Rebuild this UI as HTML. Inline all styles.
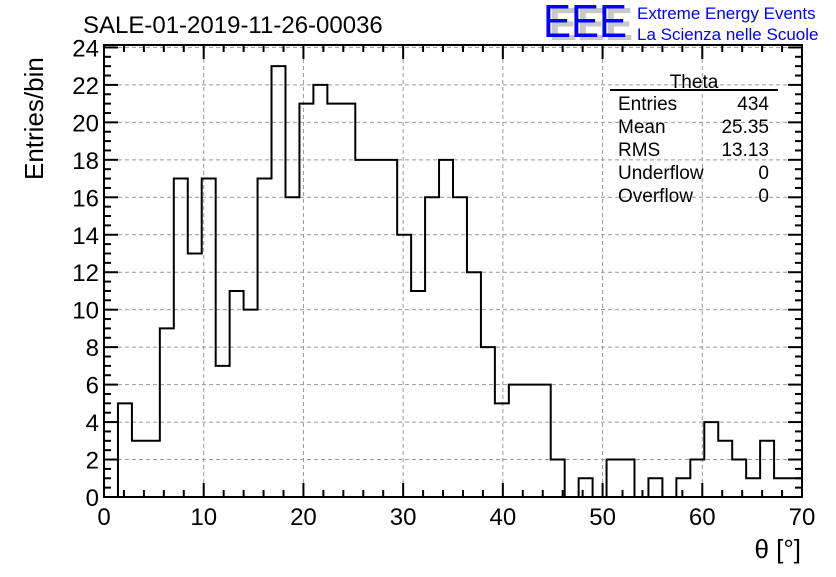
<!DOCTYPE html>
<html><head><meta charset="utf-8"><style>
body{margin:0;background:#fff}
svg text{font-family:"Liberation Sans",sans-serif}
</style></head><body>
<svg id="c" width="836" height="572" xmlns="http://www.w3.org/2000/svg">
<rect width="836" height="572" fill="#fff"/>
<g id="grid"></g>
<g id="hist"></g>
<g id="axes"></g>
<text x="83" y="33" font-size="24">SALE-01-2019-11-26-00036</text>
<g>
<text x="549" y="40" font-size="46" fill="#c8c8c8" font-weight="bold" textLength="84" lengthAdjust="spacingAndGlyphs">EEE</text>
<text x="543" y="37" font-size="46" fill="#0000ff" textLength="84" lengthAdjust="spacingAndGlyphs">EEE</text>
<text x="637" y="19" font-size="17" fill="#0000ff">Extreme Energy Events</text>
<text x="637" y="40" font-size="17" fill="#0000ff">La Scienza nelle Scuole</text>
</g>
<g font-size="19">
<text x="694" y="88" text-anchor="middle">Theta</text>
<line x1="610" y1="90" x2="778" y2="90" stroke="#000" stroke-width="2"/>
<text x="618" y="110">Entries</text><text x="769" y="110" text-anchor="end">434</text>
<text x="618" y="133">Mean</text><text x="769" y="133" text-anchor="end">25.35</text>
<text x="618" y="156">RMS</text><text x="769" y="156" text-anchor="end">13.13</text>
<text x="618" y="179">Underflow</text><text x="769" y="179" text-anchor="end">0</text>
<text x="618" y="202">Overflow</text><text x="769" y="202" text-anchor="end">0</text>
</g>
<text x="801" y="558" font-size="26" text-anchor="end">θ [°]</text>
<text transform="translate(43,180) rotate(-90)" font-size="26">Entries/bin</text>
</svg>
<script>
const binCounts=[0,5,3,3,9,17,13,17,7,11,10,17,23,16,21,22,21,21,18,18,18,14,11,16,18,16,12,8,5,6,6,6,2,0,1,0,2,2,0,1,0,1,2,4,3,2,1,3,1,1];
const binWidth=1.4;
const xTicks=[0,10,20,30,40,50,60,70];
const yTicks=[0,2,4,6,8,10,12,14,16,18,20,22,24];
const L=104,R=802,T=45,B=497,XMAX=70,YMAX=24.13;
const X=v=>L+(R-L)*v/XMAX, Y=v=>B-(B-T)*v/YMAX;
const NS="http://www.w3.org/2000/svg";
function mk(tag,at,parent){const e=document.createElementNS(NS,tag);for(const k in at)e.setAttribute(k,at[k]);parent.appendChild(e);return e;}
const grid=document.getElementById('grid'),axes=document.getElementById('axes'),hist=document.getElementById('hist');
xTicks.forEach(t=>{if(t>0&&t<XMAX){const g=mk('line',{x1:X(t),x2:X(t),y1:T,y2:B,stroke:'#999','stroke-dasharray':'4,3'},grid);

}});
yTicks.forEach(t=>{if(t>0){const g=mk('line',{x1:L,x2:R,y1:Y(t),y2:Y(t),stroke:'#999','stroke-dasharray':'4,3'},grid);

}});
let d='M'+X(0)+','+Y(0);
binCounts.forEach((c,i)=>{d+=' L'+X(i*binWidth)+','+Y(c)+' L'+X((i+1)*binWidth)+','+Y(c);});
d+=' L'+X(binCounts.length*binWidth)+','+Y(0);
const p=mk('path',{d:d,fill:'none',stroke:'#000','stroke-width':2},hist);


const fr=mk('rect',{x:L,y:T,width:R-L,height:B-T,fill:'none',stroke:'#000','stroke-width':2},axes);


for(let v=0;v<=XMAX+0.01;v+=2){const major=v%10===0;const len=major?14:7;
mk('line',{x1:X(v),x2:X(v),y1:B,y2:B-len,stroke:'#000','stroke-width':2},axes);
mk('line',{x1:X(v),x2:X(v),y1:T,y2:T+len,stroke:'#000','stroke-width':2},axes);}
for(let v=0;v<=24.01;v+=0.5){const major=Math.abs(v%2)<0.01;const len=major?14:7;
mk('line',{x1:L,x2:L+len,y1:Y(v),y2:Y(v),stroke:'#000','stroke-width':2},axes);
mk('line',{x1:R,x2:R-len,y1:Y(v),y2:Y(v),stroke:'#000','stroke-width':2},axes);}
xTicks.forEach(t=>{const e=mk('text',{x:X(t),y:B+28,'font-size':24,'text-anchor':'middle'},axes);e.textContent=t;

});
yTicks.forEach(t=>{const e=mk('text',{x:L-5,y:Y(t)+9,'font-size':24,'text-anchor':'end'},axes);e.textContent=t;

});
</script>
</body></html>
